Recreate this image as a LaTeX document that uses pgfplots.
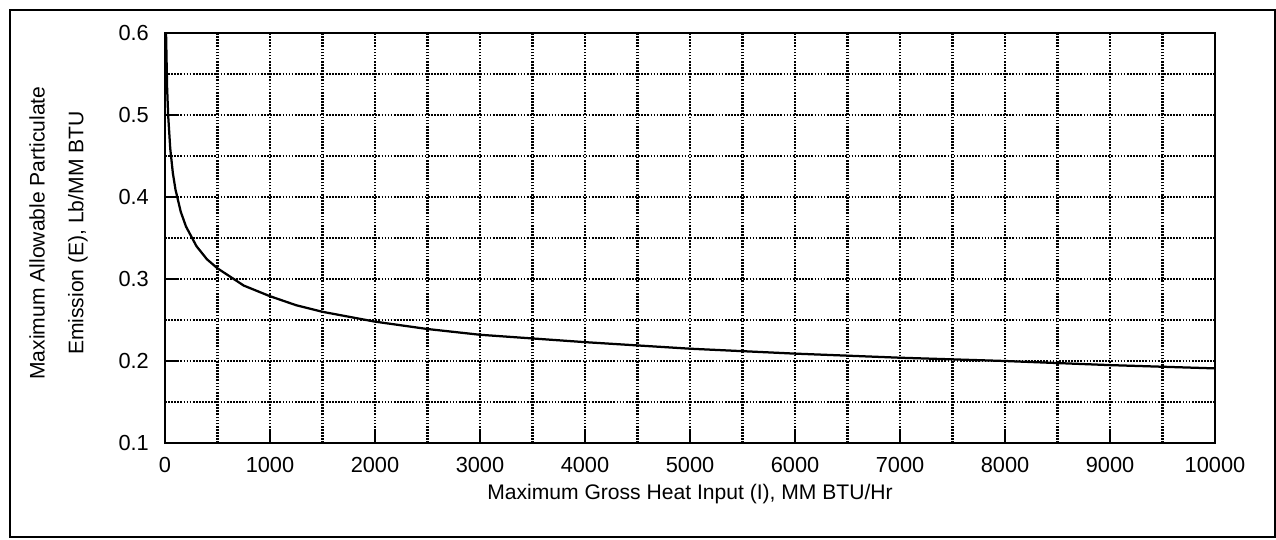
\documentclass[border=0pt]{standalone}
\usepackage{fontspec}
\setmainfont{Liberation Sans}
\usepackage{pgfplots}
\pgfplotsset{compat=1.18}
\begin{document}
\begin{tikzpicture}
\path (0,0) rectangle (319mm,134.75mm);
\draw[line width=1.2pt] (2.5mm,0.5mm) rectangle (318.75mm,132.25mm);
\begin{axis}[
  at={(41.25mm,24mm)}, anchor=south west,
  scale only axis, width=262.5mm, height=102.5mm,
  xmin=0, xmax=10000, ymin=0.1, ymax=0.6,
  scaled x ticks=false, scaled y ticks=false,
  xtick={0,1000,2000,3000,4000,5000,6000,7000,8000,9000,10000},
  xticklabels={0,1000,2000,3000,4000,5000,6000,7000,8000,9000,10000},
  ytick={0.1,0.2,0.3,0.4,0.5,0.6},
  yticklabels={0.1,0.2,0.3,0.4,0.5,0.6},
  minor xtick={500,1500,2500,3500,4500,5500,6500,7500,8500,9500},
  minor ytick={0.15,0.25,0.35,0.45,0.55},
  grid=both,
  major grid style={black, line width=1.6pt, dash pattern=on 1.2pt off 1pt},
  minor grid style={black, line width=1.6pt, dash pattern=on 1.2pt off 1pt},
  tick align=inside, tick pos=left,
  major tick length=3mm, minor tick length=0pt,
  every tick/.style={black, line width=1.5pt},
  axis line style={black, line width=1.8pt},
  tick label style={font=\fontsize{15.5}{18}\selectfont},
  xticklabel style={yshift=-2.3mm},
  yticklabel style={xshift=-2.8mm},
  xlabel={Maximum Gross Heat Input (I), MM BTU/Hr},
  xlabel style={at={(rel axis cs:0.5,-0.124)}, anchor=center, font=\fontsize{15}{18}\selectfont},
  ylabel={Maximum Allowable Particulate\\Emission (E), Lb/MM BTU},
  ylabel style={at={(rel axis cs:-0.1014,0.512)}, anchor=center, align=center, font=\fontsize{15}{27.6}\selectfont},
]
\addplot[black, line width=1.6pt] coordinates {
(0,0.6) (10,0.6) (20,0.534) (30,0.500) (50,0.459) (75,0.429) (100,0.409)
(150,0.382) (200,0.364) (300,0.340) (400,0.324) (500,0.313) (750,0.292)
(1000,0.279) (1250,0.268) (1500,0.260) (2000,0.248) (2500,0.239) (3000,0.232)
(4000,0.223) (5000,0.215) (6000,0.209) (7000,0.204) (8000,0.200) (9000,0.195) (10000,0.191)
};
\end{axis}
\end{tikzpicture}
\end{document}
